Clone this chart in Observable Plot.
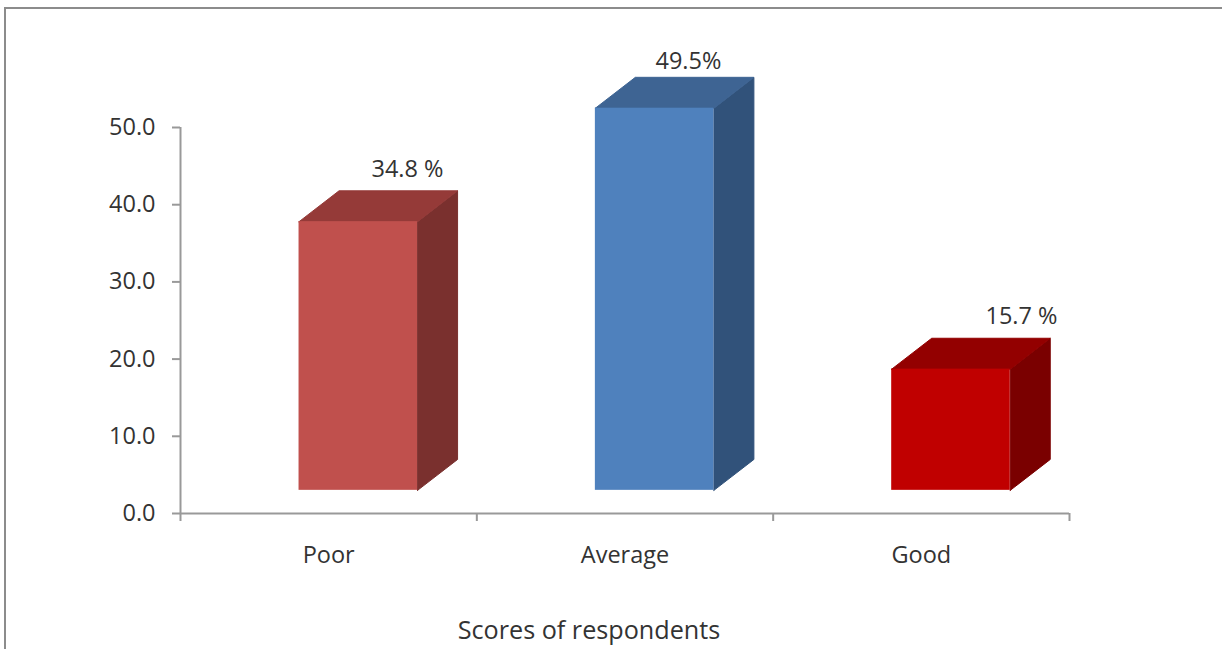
<!DOCTYPE html>
<html>
<head>
<meta charset="utf-8">
<script src="https://cdn.jsdelivr.net/npm/d3@7"></script>
<script src="https://cdn.jsdelivr.net/npm/@observablehq/plot@0.6"></script>
<style>
  html, body { margin: 0; padding: 0; background: #fff; overflow: hidden; }
  #sheet { position: absolute; left: 0; top: 0; width: 1222px; height: 649px; }
  #border { position: absolute; left: 4px; top: 7px; right: 0; bottom: 0;
            border-left: 2px solid #8c8c8c; border-top: 2px solid #8c8c8c; }
  svg { position: absolute; left: 0; top: 0; }
</style>
</head>
<body>
<div id="sheet"><div id="border"></div></div>
<script>
// Survey results
const categories = ["Poor", "Average", "Good"];
const percentages = [34.8, 49.5, 15.7];
const valueLabels = ["34.8 %", "49.5%", "15.7 %"];
const yTicks = [0, 10, 20, 30, 40, 50];
const xAxisTitle = "Scores of respondents";

// Face colours per column
const frontColors = ["#C0504D", "#4F81BD", "#C00000"];
const topColors = ["#953A38", "#3E6493", "#930000"];
const sideColors = ["#7A302E", "#31527A", "#7A0000"];

// Box geometry in scale units: the front face floats above the axis
const halfWidth = 0.2, shift = 0.1, depthX = 0.135, depthY = 4, floor = 3;
const labelOffsetX = [0.266, 0.214, 0.338];
const labelOffsetY = [2.7, 2.0, 2.8];

const boxes = percentages.map((value, i) => ({
  i,
  left: i + shift - halfWidth,
  right: i + shift + halfWidth,
  bottom: floor,
  top: value + floor
}));

// Closed outlines of the slanted faces, one group per column
const sideFaces = boxes.flatMap(b => [
  [b.right, b.bottom], [b.right + depthX, b.bottom + depthY],
  [b.right + depthX, b.top + depthY], [b.right, b.top], [b.right, b.bottom]
].map(([x, y]) => ({x, y, z: b.i, fill: sideColors[b.i]})));

const topFaces = boxes.flatMap(b => [
  [b.left, b.top], [b.left + depthX, b.top + depthY],
  [b.right + depthX, b.top + depthY], [b.right, b.top], [b.left, b.top]
].map(([x, y]) => ({x, y, z: b.i, fill: topColors[b.i]})));

const ink = "#333333";
const axisGrey = "#999999";
const textSize = 23.5;

const chart = Plot.plot({
  width: 1222,
  height: 649,
  marginLeft: 180,
  marginRight: 153,
  marginTop: 127,
  marginBottom: 136,
  style: {fontFamily: "'Open Sans', sans-serif", fontSize: "23.5px", color: ink, background: "transparent"},
  x: {type: "linear", domain: [-0.5, 2.5]},
  y: {domain: [0, 50]},
  marks: [
    Plot.line(sideFaces, {x: "x", y: "y", z: "z", fill: "fill", stroke: "fill", strokeWidth: 1}),
    Plot.line(topFaces, {x: "x", y: "y", z: "z", fill: "fill", stroke: "fill", strokeWidth: 1}),
    Plot.rect(boxes, {x1: "left", x2: "right", y1: "bottom", y2: "top", fill: d => frontColors[d.i]}),
    Plot.ruleX([-0.5], {y1: 0, y2: 50, stroke: axisGrey, strokeWidth: 2}),
    Plot.ruleY([0], {stroke: axisGrey, strokeWidth: 2}),
    Plot.axisY({ticks: yTicks, tickFormat: d3.format(".1f"), tickSize: 8, tickPadding: 17, stroke: axisGrey, strokeWidth: 2, label: null, fontSize: textSize, fill: ink}),
    Plot.axisX({ticks: [-0.5, 0.5, 1.5, 2.5], tickFormat: () => "", tickSize: 8, stroke: axisGrey, strokeWidth: 2, label: null}),
    Plot.axisX({ticks: [0, 1, 2], tickFormat: i => categories[i], tickSize: 0, tickPadding: 33, label: null, fontSize: textSize, fill: ink}),
    Plot.text(percentages, {
      x: (d, i) => i + labelOffsetX[i],
      y: (d, i) => d + floor + depthY + labelOffsetY[i],
      text: (d, i) => valueLabels[i],
      fill: ink,
      fontSize: textSize
    }),
    Plot.text([xAxisTitle], {frameAnchor: "bottom", dx: -36, dy: 125, fill: ink, fontSize: 25.2})
  ]
});

document.getElementById("sheet").appendChild(chart);
</script>
</body>
</html>
